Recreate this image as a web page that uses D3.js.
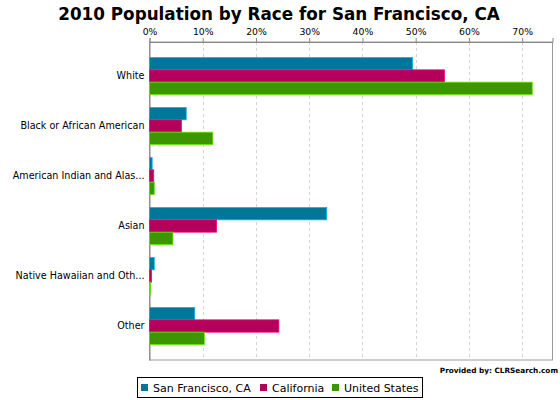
<!DOCTYPE html>
<html>
<head>
<meta charset="utf-8">
<script src="https://cdn.jsdelivr.net/npm/d3@7"></script>
<style>
  body { margin: 0; background: #fff; }
  text { font-family: "DejaVu Sans", sans-serif; }
</style>
</head>
<body>
<svg id="chart" width="560" height="400"></svg>
<script>
// data (percent of population)
var categories = ["White", "Black or African American", "American Indian and Alas...", "Asian", "Native Hawaiian and Oth...", "Other"];
var seriesNames = ["San Francisco, CA", "California", "United States"];
var seriesColors = ["#007799", "#b3005a", "#3c9602"];
var sanFrancisco = [49.4, 6.9, 0.5, 33.3, 0.9, 8.5];
var california = [55.4, 6.0, 0.8, 12.6, 0.4, 24.3];
var unitedStates = [71.9, 11.9, 0.9, 4.4, 0.2, 10.3];
var tickValues = [0, 10, 20, 30, 40, 50, 60, 70];

var seriesValues = [sanFrancisco, california, unitedStates];

var svg = d3.select("#chart");
var plot = { left: 149.5, right: 552.5, top: 42, bottom: 360 };

var x = d3.scaleLinear().domain([0, 75.7]).range([plot.left, plot.right]);
var y = d3.scaleBand().domain(categories).range([plot.top, plot.bottom])
    .paddingInner(0.26).paddingOuter(0.31);
var y2 = d3.scaleBand().domain(seriesNames).range([0, y.bandwidth()]);

// title
svg.append("text")
    .attr("x", 279).attr("y", 20)
    .attr("text-anchor", "middle")
    .style("font-size", "16.8px").style("font-weight", "bold")
    .text("2010 Population by Race for San Francisco, CA");

// plot frame
svg.append("rect")
    .attr("x", plot.left).attr("y", plot.top)
    .attr("width", plot.right - plot.left).attr("height", plot.bottom - plot.top)
    .attr("fill", "#fff").attr("stroke", "#999").attr("stroke-width", 1);

// grid lines
svg.append("g").selectAll("line")
    .data(tickValues.slice(1))
    .enter().append("line")
    .attr("x1", function (d) { return Math.round(x(d)) + 0.5; })
    .attr("x2", function (d) { return Math.round(x(d)) + 0.5; })
    .attr("y1", plot.top).attr("y2", plot.bottom)
    .attr("stroke", "#d4d4d4").attr("stroke-dasharray", "3,3");

// top axis
var xAxis = d3.axisTop(x)
    .tickValues(tickValues)
    .tickSize(4)
    .tickFormat(function (d) { return d + "%"; });
var gx = svg.append("g")
    .attr("transform", "translate(0," + plot.top + ")")
    .call(xAxis);
gx.select(".domain").attr("stroke", "#888");
gx.selectAll(".tick line").attr("stroke", "#888");
gx.selectAll(".tick text").style("font-size", "9.3px").attr("fill", "#000").attr("dy", "0");

// left axis
var yAxis = d3.axisLeft(y).tickSize(0).tickPadding(5);
var gy = svg.append("g")
    .attr("transform", "translate(" + plot.left + ",0)")
    .call(yAxis);
gy.select(".domain").attr("stroke", "#888");
gy.selectAll(".tick text").style("font-size", "9.6px").attr("fill", "#000");

// bars
seriesValues.forEach(function (vals, si) {
    svg.append("g").selectAll("rect")
        .data(vals)
        .enter().append("rect")
        .attr("x", plot.left)
        .attr("y", function (d, i) { return y(categories[i]) + y2(seriesNames[si]); })
        .attr("width", function (d) { return x(d) - plot.left; })
        .attr("height", y2.bandwidth())
        .attr("fill", seriesColors[si])
        .attr("stroke", d3.color(seriesColors[si]).brighter(1.2))
        .attr("stroke-width", 0.8);
});

// credit
svg.append("text")
    .attr("x", 558).attr("y", 373)
    .attr("text-anchor", "end")
    .style("font-size", "7.3px").style("font-weight", "bold")
    .text("Provided by: CLRSearch.com");

// legend
var legend = svg.append("g");
legend.append("rect")
    .attr("x", 137.5).attr("y", 377.5).attr("width", 285).attr("height", 20)
    .attr("fill", "#fff").attr("stroke", "#000");
var legendX = [141, 260, 332];
seriesNames.forEach(function (name, i) {
    legend.append("rect")
        .attr("x", legendX[i]).attr("y", 384).attr("width", 7).attr("height", 7)
        .attr("fill", seriesColors[i]);
    legend.append("text")
        .attr("x", legendX[i] + 12).attr("y", 392)
        .style("font-size", "11px")
        .text(name);
});
</script>
</body>
</html>
